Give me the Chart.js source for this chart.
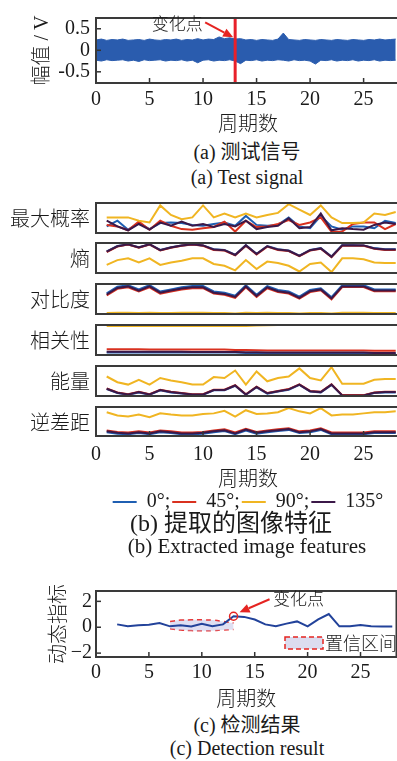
<!DOCTYPE html>
<html>
<head>
<meta charset="utf-8">
<script src="https://cdn.jsdelivr.net/npm/chart.js@4.4.1/dist/chart.umd.min.js"></script>
<style>
  html, body { margin: 0; padding: 0; background: #fff; width: 397px; height: 761px; overflow: hidden; }
  body { position: relative; color: #1a1a1a; font-family: "Liberation Serif", "Noto Sans CJK SC", serif; }
  canvas { position: absolute; left: 0; }
  .lbl { position: absolute; right: 307px; height: 30px; line-height: 30px; font-size: 20px; font-weight: 300; font-family: "Noto Sans CJK SC", sans-serif; text-align: right; white-space: nowrap; }
  .cap { position: absolute; left: 0; width: 494px; height: 24px; line-height: 24px; font-size: 20px; text-align: center; white-space: nowrap; }
</style>
</head>
<body>
<canvas id="cA" width="402" height="135" style="top:0px"></canvas>
<canvas id="cB0" width="402" height="34" style="top:201px"></canvas>
<canvas id="cB1" width="402" height="34" style="top:241px"></canvas>
<canvas id="cB2" width="402" height="34" style="top:282px"></canvas>
<canvas id="cB3" width="402" height="34" style="top:323px"></canvas>
<canvas id="cB4" width="402" height="34" style="top:364px"></canvas>
<canvas id="cB5" width="402" height="117" style="top:405px"></canvas>
<canvas id="cC" width="402" height="135" style="top:575px"></canvas>

<div class="lbl" style="top:203px">最大概率</div>
<div class="lbl" style="top:243px">熵</div>
<div class="lbl" style="top:284px">对比度</div>
<div class="lbl" style="top:325px">相关性</div>
<div class="lbl" style="top:366px">能量</div>
<div class="lbl" style="top:407px">逆差距</div>

<div class="cap" style="top:140px">(a) 测试信号</div>
<div class="cap" style="top:165px">(a) Test signal</div>
<div class="cap" style="top:511px; width:462px; font-size:24px">(b) 提取的图像特征</div>
<div class="cap" style="top:534px; font-size:21px">(b) Extracted image features</div>
<div class="cap" style="top:713px">(c) 检测结果</div>
<div class="cap" style="top:736px">(c) Detection result</div>

<script>
    // ---- (a) 测试信号: 信号包络 (每 0.5 周期一个读数) ----
    const sigStep = 0.5;
    const sigUpper = [
        0.24,0.26,0.23,0.25,0.24,0.26,0.23,0.24,0.25,0.23,
        0.26,0.24,0.23,0.25,0.24,0.26,0.23,0.25,0.24,0.27,
        0.24,0.26,0.25,0.31,0.27,0.29,0.26,0.27,0.24,0.25,
        0.23,0.25,0.24,0.23,0.26,0.40,0.25,0.24,0.23,0.25,
        0.24,0.23,0.25,0.24,0.23,0.25,0.24,0.23,0.25,0.24,
        0.23,0.25,0.24,0.26,0.24,0.25,0.26];
    const sigLower = [
        -0.23,-0.25,-0.22,-0.24,-0.23,-0.22,-0.25,-0.23,-0.26,-0.22,
        -0.24,-0.23,-0.22,-0.25,-0.23,-0.24,-0.22,-0.25,-0.23,-0.29,
        -0.23,-0.22,-0.25,-0.23,-0.24,-0.22,-0.25,-0.31,-0.23,-0.24,
        -0.22,-0.25,-0.23,-0.24,-0.22,-0.23,-0.25,-0.22,-0.24,-0.23,
        -0.25,-0.32,-0.23,-0.24,-0.22,-0.25,-0.23,-0.24,-0.22,-0.25,
        -0.23,-0.24,-0.22,-0.25,-0.23,-0.24,-0.23];
    const changeX = 13;
    const ampMin = -0.76, ampMax = 0.75;
    const xMax = 28.4;

    // ---- (b) 提取的图像特征 (各子图纵轴归一化 0~1) ----
    const periods = [1,2,3,4,5,6,7,8,9,10,11,12,13,14,15,16,17,18,19,20,21,22,23,24,25,26,27,28];
    const angleLabels = ['0°', '45°', '90°', '135°'];

    const maxProb0   = [0.22,0.41,0.11,0.33,0.13,0.33,0.35,0.33,0.27,0.24,0.30,0.35,0.24,0.57,0.27,0.24,0.27,0.52,0.22,0.16,0.57,0.22,0.11,0.22,0.22,0.16,0.41,0.33];
    const maxProb45  = [0.27,0.22,0.09,0.38,0.11,0.41,0.24,0.13,0.11,0.16,0.20,0.38,0.05,0.41,0.20,0.22,0.30,0.43,0.27,0.35,0.52,0.04,0.05,0.30,0.35,0.35,0.13,0.30];
    const maxProb90  = [0.52,0.52,0.52,0.41,0.35,0.92,0.60,0.46,0.52,0.92,0.52,0.65,0.52,0.65,0.52,0.60,0.67,0.96,0.78,0.60,0.92,0.52,0.33,0.33,0.35,0.65,0.60,0.70];
    const maxProb135 = [0.41,0.22,0.09,0.30,0.11,0.35,0.24,0.38,0.24,0.30,0.20,0.30,0.22,0.41,0.13,0.20,0.24,0.49,0.16,0.20,0.65,0.09,0.16,0.13,0.11,0.27,0.35,0.30];

    const entropy0   = [0.72,0.90,0.95,0.86,0.95,0.77,0.86,0.92,0.95,0.92,0.79,0.77,0.61,0.93,0.64,0.90,0.79,0.75,0.58,0.77,0.83,0.55,0.93,0.93,0.92,0.83,0.79,0.79];
    const entropy45  = [0.70,0.88,0.95,0.84,0.95,0.75,0.84,0.91,0.95,0.91,0.77,0.75,0.59,0.91,0.62,0.88,0.77,0.73,0.56,0.75,0.81,0.53,0.91,0.91,0.91,0.81,0.77,0.77];
    const entropy90  = [0.27,0.43,0.49,0.35,0.49,0.27,0.35,0.41,0.49,0.49,0.30,0.24,0.09,0.43,0.13,0.38,0.33,0.24,0.05,0.30,0.35,0.03,0.49,0.49,0.46,0.35,0.33,0.33];
    const entropy135 = [0.71,0.89,0.96,0.85,0.96,0.76,0.85,0.92,0.96,0.92,0.78,0.76,0.60,0.92,0.63,0.89,0.78,0.74,0.57,0.76,0.82,0.54,0.92,0.92,0.92,0.82,0.78,0.78];

    const contrast0   = [0.69,0.91,0.96,0.82,0.96,0.75,0.82,0.89,0.93,0.93,0.75,0.71,0.61,0.96,0.64,0.93,0.80,0.75,0.58,0.80,0.86,0.56,0.96,0.96,0.96,0.82,0.82,0.82];
    const contrast45  = [0.62,0.84,0.89,0.75,0.89,0.68,0.75,0.82,0.86,0.86,0.68,0.64,0.54,0.89,0.57,0.86,0.73,0.68,0.51,0.73,0.79,0.49,0.90,0.90,0.90,0.76,0.76,0.76];
    const contrast90  = [0.03,0.04,0.04,0.03,0.04,0.03,0.03,0.04,0.04,0.04,0.03,0.03,0.02,0.04,0.03,0.04,0.03,0.03,0.02,0.03,0.03,0.02,0.04,0.04,0.04,0.03,0.03,0.03];
    const contrast135 = [0.65,0.87,0.92,0.78,0.92,0.71,0.78,0.85,0.89,0.89,0.71,0.67,0.57,0.92,0.60,0.89,0.76,0.71,0.54,0.76,0.82,0.52,0.92,0.92,0.92,0.78,0.78,0.78];

    const corr0   = [0.08,0.08,0.08,0.08,0.08,0.08,0.08,0.08,0.08,0.08,0.08,0.08,0.08,0.07,0.07,0.06,0.06,0.06,0.06,0.06,0.06,0.06,0.06,0.06,0.06,0.06,0.05,0.05];
    const corr45  = [0.19,0.19,0.19,0.19,0.18,0.18,0.18,0.18,0.18,0.18,0.18,0.18,0.17,0.17,0.16,0.15,0.15,0.15,0.15,0.15,0.15,0.15,0.15,0.15,0.15,0.14,0.14,0.14];
    const corr90  = [0.97,0.97,0.97,0.97,0.97,0.97,0.97,0.97,0.97,0.97,0.97,0.97,0.97,0.97,0.98,0.99,1,1,1,1,1,1,1,1,1,1,1,1];
    const corr135 = [0.11,0.11,0.11,0.11,0.11,0.11,0.11,0.11,0.10,0.10,0.10,0.10,0.10,0.09,0.09,0.08,0.08,0.08,0.08,0.08,0.08,0.08,0.08,0.08,0.08,0.07,0.07,0.07];

    const energy0   = [0.23,0.10,0.04,0.12,0.04,0.19,0.12,0.08,0.04,0.04,0.19,0.19,0.34,0.04,0.29,0.08,0.15,0.21,0.37,0.15,0.12,0.37,0.02,0.02,0.02,0.10,0.12,0.12];
    const energy45  = [0.25,0.12,0.06,0.14,0.06,0.21,0.14,0.10,0.06,0.06,0.21,0.21,0.36,0.06,0.31,0.10,0.17,0.23,0.39,0.17,0.14,0.39,0.03,0.03,0.03,0.12,0.14,0.14];
    const energy90  = [0.65,0.46,0.38,0.54,0.38,0.60,0.52,0.46,0.38,0.38,0.63,0.60,0.85,0.38,0.82,0.49,0.60,0.65,0.92,0.60,0.52,0.96,0.41,0.41,0.41,0.54,0.57,0.57];
    const energy135 = [0.24,0.11,0.05,0.13,0.05,0.20,0.13,0.09,0.05,0.05,0.20,0.20,0.35,0.05,0.30,0.09,0.16,0.22,0.38,0.16,0.13,0.38,0.02,0.02,0.02,0.11,0.13,0.13];

    const homog0   = [0.13,0.08,0.06,0.10,0.06,0.13,0.10,0.06,0.06,0.08,0.13,0.17,0.06,0.19,0.08,0.13,0.17,0.21,0.10,0.13,0.21,0.06,0.06,0.06,0.06,0.10,0.10,0.10];
    const homog45  = [0.19,0.14,0.12,0.16,0.12,0.19,0.16,0.12,0.12,0.14,0.19,0.23,0.12,0.25,0.14,0.19,0.23,0.27,0.16,0.19,0.27,0.12,0.12,0.12,0.12,0.16,0.16,0.16];
    const homog90  = [0.82,0.71,0.67,0.74,0.65,0.78,0.74,0.71,0.71,0.76,0.78,0.87,0.67,0.89,0.76,0.78,0.82,0.96,0.85,0.78,0.96,0.71,0.74,0.74,0.78,0.82,0.82,0.85];
    const homog135 = [0.16,0.11,0.09,0.13,0.09,0.16,0.13,0.09,0.09,0.11,0.16,0.20,0.09,0.22,0.11,0.16,0.20,0.24,0.13,0.16,0.24,0.09,0.09,0.09,0.09,0.13,0.13,0.13];

    // ---- (c) 检测结果 ----
    const detPeriods = [2,3,4,5,6,7,8,9,10,11,12,13,14,15,16,17,18,19,20,21,22,23,24,25,26,27,28];
    const detIndex   = [0.22,0.07,0.15,0.20,0.33,0.07,0.15,0.05,0.26,0.07,0.22,0.85,0.80,0.60,0.22,0.07,0.28,0.45,0.07,0.60,1.02,0.07,0.07,0.17,0.07,0.05,0.05];
    const confPeriods = [7,8,9,10,11,12,13];
    const confUpper   = [0.45,0.55,0.57,0.57,0.55,0.45,0.33];
    const confLower   = [-0.12,-0.22,-0.26,-0.28,-0.27,-0.22,-0.18];
    const detMin = -2.3, detMax = 2.8;

    const serif = '"Liberation Serif", "Times New Roman", serif';
    const mixed = '"Liberation Serif", "Noto Sans CJK SC", serif';
    const cjk = '"Noto Sans CJK SC", sans-serif';
    const ink = '#1a1a1a';
    const sigColor = '#2a5cae';
    const angleColors = ['#1f5fb2', '#d9311f', '#f0b522', '#3b1848'];
    const noteRed = '#e52421';

    const pts = (xs, ys) => ys.map((y, i) => ({ x: xs[i], y }));

    const framePlugin = {
        id: 'frame',
        afterDraw(chart) {
            const { ctx, chartArea: a } = chart;
            ctx.save();
            ctx.strokeStyle = '#333';
            ctx.lineWidth = 1.5;
            ['x', 'y'].forEach(id => {
                const s = chart.scales[id];
                if (!s || !s.options.display) return;
                s.ticks.forEach(t => {
                    const p = s.getPixelForValue(t.value);
                    ctx.beginPath();
                    if (id === 'x') { ctx.moveTo(p, a.bottom); ctx.lineTo(p, a.bottom - 5); }
                    else { ctx.moveTo(a.left, p); ctx.lineTo(a.left + 5, p); }
                    ctx.stroke();
                });
            });
            ctx.lineWidth = 2;
            ctx.strokeStyle = '#3a3a3a';
            ctx.strokeRect(a.left, a.top, a.right - a.left, a.bottom - a.top);
            ctx.restore();
        }
    };

    function arrowNote(key, note) {
        return {
            id: 'note' + key,
            afterDraw(chart) {
                const { ctx } = chart;
                const tx = chart.scales.x.getPixelForValue(note.x) + note.tip[0];
                const ty = chart.scales.y.getPixelForValue(note.y) + note.tip[1];
                const sx = tx + note.tail[0], sy = ty + note.tail[1];
                const ang = Math.atan2(ty - sy, tx - sx);
                const bx = tx - 10 * Math.cos(ang), by = ty - 10 * Math.sin(ang);
                ctx.save();
                ctx.strokeStyle = noteRed;
                ctx.fillStyle = noteRed;
                ctx.lineWidth = 2;
                ctx.beginPath(); ctx.moveTo(sx, sy); ctx.lineTo(bx, by); ctx.stroke();
                ctx.beginPath();
                ctx.moveTo(tx, ty);
                ctx.lineTo(bx + 4.5 * Math.sin(ang), by - 4.5 * Math.cos(ang));
                ctx.lineTo(bx - 4.5 * Math.sin(ang), by + 4.5 * Math.cos(ang));
                ctx.closePath(); ctx.fill();
                ctx.fillStyle = ink;
                ctx.font = '300 17px ' + cjk;
                ctx.textAlign = 'center';
                ctx.textBaseline = 'middle';
                ctx.fillText(note.text, tx + note.label[0], ty + note.label[1]);
                ctx.restore();
            }
        };
    }

    function xAxis(show, height, pad) {
        return {
            type: 'linear', min: 0, max: xMax, display: show,
            ticks: { stepSize: 5, includeBounds: false, maxRotation: 0, padding: pad, color: ink, font: { family: serif, size: 20 } },
            grid: { display: false, drawTicks: false },
            border: { display: false },
            title: { display: show, text: '周期数', color: ink, font: { family: cjk, size: 20, weight: 300 }, padding: { top: 0, bottom: 0 } },
            afterFit: s => { if (show) s.height = height; }
        };
    }

    const base = {
        animation: false, responsive: false, events: [],
        plugins: { legend: { display: false }, tooltip: { enabled: false } }
    };

    // (a)
    new Chart(document.getElementById('cA'), {
        type: 'line',
        data: {
            datasets: [
                { data: [{ x: changeX, y: ampMin }, { x: changeX, y: ampMax }], borderColor: '#e8202a', borderWidth: 3, pointRadius: 0 },
                { data: pts(sigUpper.map((_, i) => i * sigStep), sigUpper), borderColor: sigColor, backgroundColor: sigColor, borderWidth: 1, pointRadius: 0, fill: '+1' },
                { data: pts(sigLower.map((_, i) => i * sigStep), sigLower), borderColor: sigColor, borderWidth: 1, pointRadius: 0, fill: false }
            ]
        },
        options: {
            ...base,
            layout: { padding: { top: 8, left: 0, right: 2, bottom: 0 } },
            scales: {
                x: xAxis(true, 52, 5),
                y: {
                    min: ampMin, max: ampMax,
                    ticks: { stepSize: 0.5, includeBounds: false, padding: 6, color: ink, font: { family: serif, size: 20 } },
                    grid: { display: false, drawTicks: false },
                    border: { display: false },
                    title: { display: true, text: '幅值 / V', color: ink, font: { family: mixed, size: 20, weight: 300 }, padding: { top: 31, bottom: 0 } },
                    afterFit: s => { s.width = 96; }
                }
            }
        },
        plugins: [framePlugin, arrowNote('A', { x: changeX, y: 0.3, tip: [-2, 0], tail: [-28, -15], label: [-56, -14], text: '变化点' })]
    });

    // (b)
    const features = [
        [maxProb0, maxProb45, maxProb90, maxProb135],
        [entropy0, entropy45, entropy90, entropy135],
        [contrast0, contrast45, contrast90, contrast135],
        [corr0, corr45, corr90, corr135],
        [energy0, energy45, energy90, energy135],
        [homog0, homog45, homog90, homog135]
    ];
    const drawOrder = [4, 3, 2, 1];

    features.forEach((series, k) => {
        const last = k === features.length - 1;
        new Chart(document.getElementById('cB' + k), {
            type: 'line',
            data: {
                datasets: series.map((ys, j) => ({
                    label: angleLabels[j],
                    data: pts(periods, ys),
                    borderColor: angleColors[j],
                    backgroundColor: angleColors[j],
                    borderWidth: 2, pointRadius: 0, order: drawOrder[j]
                }))
            },
            options: {
                ...base,
                layout: { padding: { top: 2, left: 96, right: 2, bottom: last ? 0 : 2 } },
                plugins: {
                    tooltip: { enabled: false },
                    legend: {
                        display: last, position: 'bottom', fullSize: false,
                        labels: {
                            boxWidth: 24, boxHeight: 2, padding: 2, color: ink,
                            font: { family: serif, size: 20 },
                            sort: (a, b) => a.datasetIndex - b.datasetIndex,
                            generateLabels: chart => Chart.defaults.plugins.legend.labels.generateLabels(chart)
                                .map(it => ({ ...it, text: it.text + (it.datasetIndex < 3 ? ';' : ''), lineWidth: 0, fillStyle: it.strokeStyle }))
                        }
                    }
                },
                scales: {
                    x: xAxis(last, 54, 7),
                    y: { min: 0, max: 1, display: false }
                }
            },
            plugins: [framePlugin]
        });
    });

    // (c)
    const confLegend = {
        id: 'confLegend',
        afterDraw(chart) {
            const { ctx, chartArea: a } = chart;
            ctx.save();
            ctx.fillStyle = '#dcdcef';
            ctx.fillRect(a.left + 189, a.bottom - 20, 38, 12);
            ctx.strokeStyle = noteRed;
            ctx.lineWidth = 1.5;
            ctx.setLineDash([5, 3]);
            ctx.strokeRect(a.left + 189, a.bottom - 20, 38, 12);
            ctx.setLineDash([]);
            ctx.fillStyle = ink;
            ctx.font = '300 18px ' + cjk;
            ctx.textBaseline = 'middle';
            ctx.fillText('置信区间', a.left + 229, a.bottom - 14);
            ctx.restore();
        }
    };

    new Chart(document.getElementById('cC'), {
        type: 'line',
        data: {
            datasets: [
                { data: [{ x: changeX, y: detIndex[detPeriods.indexOf(changeX)] }], showLine: false, pointRadius: 4, pointBorderWidth: 1.5, pointBorderColor: noteRed, pointBackgroundColor: 'rgba(0,0,0,0)' },
                { data: pts(detPeriods, detIndex), borderColor: '#22429a', borderWidth: 2, pointRadius: 0 },
                { data: pts(confPeriods, confUpper), borderColor: '#e5393a', borderWidth: 1.5, borderDash: [5, 4], pointRadius: 0, tension: 0.4, fill: '+1', backgroundColor: 'rgba(196,196,232,0.55)' },
                { data: pts(confPeriods, confLower), borderColor: '#e5393a', borderWidth: 1.5, borderDash: [5, 4], pointRadius: 0, tension: 0.4, fill: false }
            ]
        },
        options: {
            ...base,
            layout: { padding: { top: 8, left: 0, right: 2, bottom: 0 } },
            scales: {
                x: xAxis(true, 53, 4),
                y: {
                    min: detMin, max: detMax,
                    ticks: { stepSize: 2, includeBounds: false, padding: 4, color: ink, font: { family: serif, size: 20 },
                             callback: v => v < 0 ? '\u2212' + Math.abs(v) : String(v) },
                    grid: { display: false, drawTicks: false },
                    border: { display: false },
                    title: { display: true, text: '动态指标', color: ink, font: { family: cjk, size: 20, weight: 300 }, padding: { top: 45, bottom: 0 } },
                    afterFit: s => { s.width = 96; }
                }
            }
        },
        plugins: [framePlugin, confLegend, arrowNote('C', { x: changeX, y: 0.85, tip: [6, -4], tail: [30, -13], label: [59, -14], text: '变化点' })]
    });
</script>
</body>
</html>
